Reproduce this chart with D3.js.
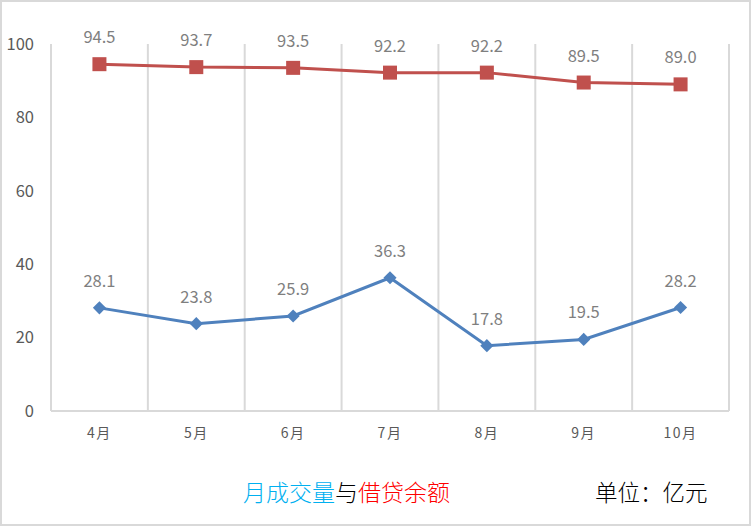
<!DOCTYPE html>
<html>
<head>
<meta charset="utf-8">
<script src="https://cdn.jsdelivr.net/npm/d3@7"></script>
<style>
  body { margin: 0; background: #fff; }
  svg { display: block; font-family: "Noto Sans CJK SC", "Noto Sans", sans-serif; }
</style>
</head>
<body>
<div id="chart"></div>
<script>
// chart data
const months = ["4月", "5月", "6月", "7月", "8月", "9月", "10月"];
const loanBalance = [94.5, 93.7, 93.5, 92.2, 92.2, 89.5, 89.0];
const monthlyVolume = [28.1, 23.8, 25.9, 36.3, 17.8, 19.5, 28.2];
const yTicks = [0, 20, 40, 60, 80, 100];

const width = 752, height = 527;
const plot = { left: 51, right: 729, top: 44, bottom: 411 };

const svg = d3.select("#chart").append("svg")
    .attr("width", width).attr("height", height);

// outer frame
svg.append("rect")
    .attr("x", 1).attr("y", 1)
    .attr("width", width - 3).attr("height", height - 3)
    .attr("fill", "#fff").attr("stroke", "#d9d9d9").attr("stroke-width", 2);

let x = d3.scaleBand().domain(months).range([plot.left, plot.right]);
let y = d3.scaleLinear().domain([0, 100]).range([plot.bottom, plot.top]);

// vertical gridlines at category boundaries
let bounds = months.map(m => x(m)).concat([plot.right]);
svg.selectAll(".vgrid")
    .data(bounds)
    .enter()
    .append("line")
    .attr("class", "vgrid")
    .attr("x1", d => d).attr("x2", d => d)
    .attr("y1", plot.top).attr("y2", plot.bottom)
    .attr("stroke", "#d9d9d9").attr("stroke-width", 2);

// x axis line
svg.append("line")
    .attr("x1", plot.left).attr("x2", plot.right)
    .attr("y1", plot.bottom).attr("y2", plot.bottom)
    .attr("stroke", "#d9d9d9").attr("stroke-width", 2);

// y tick labels
svg.selectAll(".ylab")
    .data(yTicks)
    .enter()
    .append("text")
    .attr("x", 34)
    .attr("y", d => y(d))
    .attr("dy", "0.35em")
    .attr("text-anchor", "end")
    .attr("font-size", 16.5)
    .attr("fill", "#595959")
    .text(d => d);

// x tick labels
svg.selectAll(".xlab")
    .data(months)
    .enter()
    .append("text")
    .attr("x", d => x(d) + x.bandwidth() / 2)
    .attr("y", 438)
    .attr("text-anchor", "middle")
    .attr("font-size", 14)
    .attr("letter-spacing", 1.5)
    .attr("fill", "#595959")
    .text(d => d);

let cx = (d, i) => x(months[i]) + x.bandwidth() / 2;
let line = d3.line().x(cx).y(d => y(d));

// red series: loan balance
svg.append("path")
    .datum(loanBalance)
    .attr("d", line)
    .attr("fill", "none")
    .attr("stroke", "#c0504d").attr("stroke-width", 3);

svg.selectAll(".sq")
    .data(loanBalance)
    .enter()
    .append("rect")
    .attr("x", (d, i) => cx(d, i) - 7)
    .attr("y", d => y(d) - 7)
    .attr("width", 14).attr("height", 14)
    .attr("fill", "#c0504d");

// blue series: monthly volume
svg.append("path")
    .datum(monthlyVolume)
    .attr("d", line)
    .attr("fill", "none")
    .attr("stroke", "#4f81bd").attr("stroke-width", 3);

svg.selectAll(".dm")
    .data(monthlyVolume)
    .enter()
    .append("path")
    .attr("d", d3.symbol().type(d3.symbolDiamond2).size(110))
    .attr("transform", (d, i) => "translate(" + cx(d, i) + "," + y(d) + ")")
    .attr("fill", "#4f81bd");

// data labels
[loanBalance, monthlyVolume].forEach(series => {
    svg.append("g").selectAll("text")
        .data(series)
        .enter()
        .append("text")
        .attr("x", (d, i) => cx(d, i))
        .attr("y", d => y(d) - 21)
        .attr("text-anchor", "middle")
        .attr("font-size", 16.5)
        .attr("fill", "#7f7f7f")
        .text(d => d.toFixed(1));
});

// title and unit
let title = svg.append("text")
    .attr("x", 243).attr("y", 501)
    .attr("font-size", 23)
    .attr("font-weight", 300);
title.append("tspan").attr("fill", "#00b0f0").text("月成交量");
title.append("tspan").attr("fill", "#000").text("与");
title.append("tspan").attr("fill", "#ff0000").text("借贷余额");

svg.append("text")
    .attr("x", 595).attr("y", 501)
    .attr("font-size", 22.5)
    .attr("font-weight", 300)
    .attr("fill", "#000")
    .text("单位：亿元");
</script>
</body>
</html>
